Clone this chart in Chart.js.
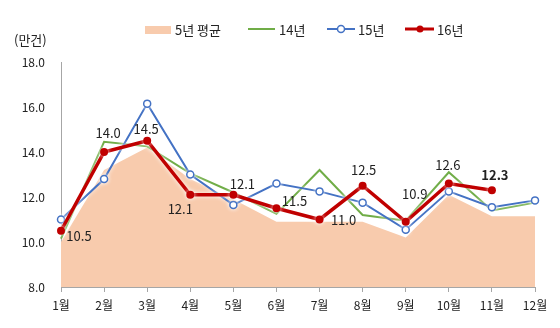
<!DOCTYPE html>
<html lang="ko">
<head>
<meta charset="utf-8">
<script src="https://cdn.jsdelivr.net/npm/chart.js@4.4.1/dist/chart.umd.min.js"></script>
<style>
  html, body { margin: 0; padding: 0; background: #fff; }
  #wrap { width: 560px; height: 328px; }
</style>
</head>
<body>
<div id="wrap"><canvas id="c" width="560" height="328"></canvas></div>
<script>
// Months on the x axis
const months = ['1월', '2월', '3월', '4월', '5월', '6월', '7월', '8월', '9월', '10월', '11월', '12월'];

// Monthly counts (unit: 만건)
const avg5y = [10.0, 13.2, 14.2, 12.8, 11.9, 10.9, 10.9, 10.9, 10.2, 12.1, 11.15, 11.15];
const y2014 = [10.15, 14.45, 14.25, 13.05, 12.2, 11.25, 13.2, 11.2, 10.95, 13.1, 11.4, 11.75];
const y2015 = [11.0, 12.8, 16.15, 13.0, 11.65, 12.6, 12.25, 11.75, 10.55, 12.25, 11.55, 11.85];
const y2016 = [10.5, 14.0, 14.5, 12.1, 12.1, 11.5, 11.0, 12.5, 10.9, 12.6, 12.3, null];

// Y axis range and step
const yMin = 8, yMax = 18, yStep = 2;

const seriesNames = ['5년 평균', '14년', '15년', '16년'];
const colors = { avg: '#F8CBAD', g: '#70AD47', b: '#4472C4', r: '#C00000' };

// Where each 16년 value label sits relative to its point (px)
const labelShift = [[18, 5], [4, -19], [-1, -12], [-10, 14], [9, -11], [18, -7], [24, 1], [1, -16], [9, -28], [-1, -18], [3, -15]];

const FONT = '"Noto Sans CJK KR", "Noto Sans", sans-serif';

// Soft white glow under the line series so they stand off the filled area
const lineGlow = {
  id: 'lineGlow',
  beforeDatasetDraw(chart, args) {
    if (args.index === 0) return;
    const ctx = chart.ctx;
    ctx.save();
    ctx.shadowColor = 'rgba(255,255,255,0.95)';
    ctx.shadowBlur = 4;
  },
  afterDatasetDraw(chart, args) {
    if (args.index === 0) return;
    chart.ctx.restore();
  }
};

const valueLabels = {
  id: 'valueLabels',
  afterDatasetsDraw(chart) {
    const meta = chart.getDatasetMeta(3);
    const ctx = chart.ctx;
    ctx.save();
    ctx.textAlign = 'center';
    ctx.textBaseline = 'middle';
    ctx.fillStyle = '#222';
    meta.data.forEach((pt, i) => {
      const v = y2016[i];
      if (v == null) return;
      const s = labelShift[i];
      ctx.font = (i === 10 ? 'bold ' : '') + '13px ' + FONT;
      ctx.fillText(v.toFixed(1), pt.x + s[0], pt.y + s[1]);
    });
    ctx.restore();
  }
};

const legendAndUnit = {
  id: 'legendAndUnit',
  afterDraw(chart) {
    const ctx = chart.ctx;
    ctx.save();
    ctx.textBaseline = 'middle';
    ctx.textAlign = 'left';
    ctx.fillStyle = '#222';
    ctx.font = '13px ' + FONT;
    ctx.fillText('(만건)', 14, 40);

    const cy = 30;
    // 5년 평균: filled swatch
    ctx.fillStyle = colors.avg;
    ctx.fillRect(145, 26, 26, 8);
    ctx.fillStyle = '#222';
    ctx.fillText(seriesNames[0], 175, cy);
    // 14년: plain line
    ctx.strokeStyle = colors.g; ctx.lineWidth = 2;
    ctx.beginPath(); ctx.moveTo(248, cy - 1); ctx.lineTo(275, cy - 1); ctx.stroke();
    ctx.fillText(seriesNames[1], 279, cy);
    // 15년: line with open circle
    ctx.strokeStyle = colors.b; ctx.lineWidth = 2;
    ctx.beginPath(); ctx.moveTo(327, cy - 1); ctx.lineTo(355, cy - 1); ctx.stroke();
    ctx.fillStyle = '#fff'; ctx.lineWidth = 1.5;
    ctx.beginPath(); ctx.arc(341, cy - 1, 3.5, 0, Math.PI * 2); ctx.fill(); ctx.stroke();
    ctx.fillStyle = '#222';
    ctx.fillText(seriesNames[2], 358, cy);
    // 16년: thick line with filled dot
    ctx.strokeStyle = colors.r; ctx.lineWidth = 3;
    ctx.beginPath(); ctx.moveTo(405, cy - 1); ctx.lineTo(434, cy - 1); ctx.stroke();
    ctx.fillStyle = colors.r;
    ctx.beginPath(); ctx.arc(420, cy - 1, 3.5, 0, Math.PI * 2); ctx.fill();
    ctx.fillStyle = '#222';
    ctx.fillText(seriesNames[3], 437, cy);
    ctx.restore();
  }
};

new Chart(document.getElementById('c'), {
  type: 'line',
  data: {
    labels: months,
    datasets: [
      {
        label: seriesNames[0], data: avg5y, order: 4,
        fill: 'start', backgroundColor: colors.avg, borderWidth: 0,
        borderColor: 'rgba(0,0,0,0)', pointRadius: 0, tension: 0
      },
      {
        label: seriesNames[1], data: y2014, order: 3,
        borderColor: colors.g, borderWidth: 2, pointRadius: 0, fill: false, tension: 0
      },
      {
        label: seriesNames[2], data: y2015, order: 2,
        borderColor: colors.b, borderWidth: 2, pointRadius: 3.5, pointBorderWidth: 1.5,
        pointBackgroundColor: '#fff', pointBorderColor: colors.b, fill: false, tension: 0
      },
      {
        label: seriesNames[3], data: y2016, order: 1,
        borderColor: colors.r, borderWidth: 3.5, pointRadius: 4, pointBorderWidth: 0,
        pointBackgroundColor: colors.r, fill: false, tension: 0, spanGaps: false
      }
    ]
  },
  options: {
    responsive: false,
    animation: false,
    layout: { padding: { top: 62, right: 25, left: 0, bottom: 0 } },
    plugins: { legend: { display: false }, tooltip: { enabled: false } },
    scales: {
      x: {
        offset: false,
        grid: { display: true, drawOnChartArea: false, drawTicks: true, tickLength: 5, color: '#A6A6A6' },
        border: { display: true, color: '#A6A6A6', width: 1 },
        ticks: { color: '#222', font: { family: FONT, size: 12 }, padding: 6, maxRotation: 0, autoSkip: false },
        afterFit(scale) { scale.height = 41; }
      },
      y: {
        min: yMin, max: yMax,
        grid: { display: false, drawTicks: false },
        border: { display: true, color: '#A6A6A6', width: 1 },
        ticks: {
          stepSize: yStep, color: '#222', padding: 16,
          font: { family: FONT, size: 12 },
          callback: v => Number(v).toFixed(1)
        },
        afterFit(scale) { scale.width = 61; }
      }
    }
  },
  plugins: [lineGlow, valueLabels, legendAndUnit]
});
</script>
</body>
</html>
